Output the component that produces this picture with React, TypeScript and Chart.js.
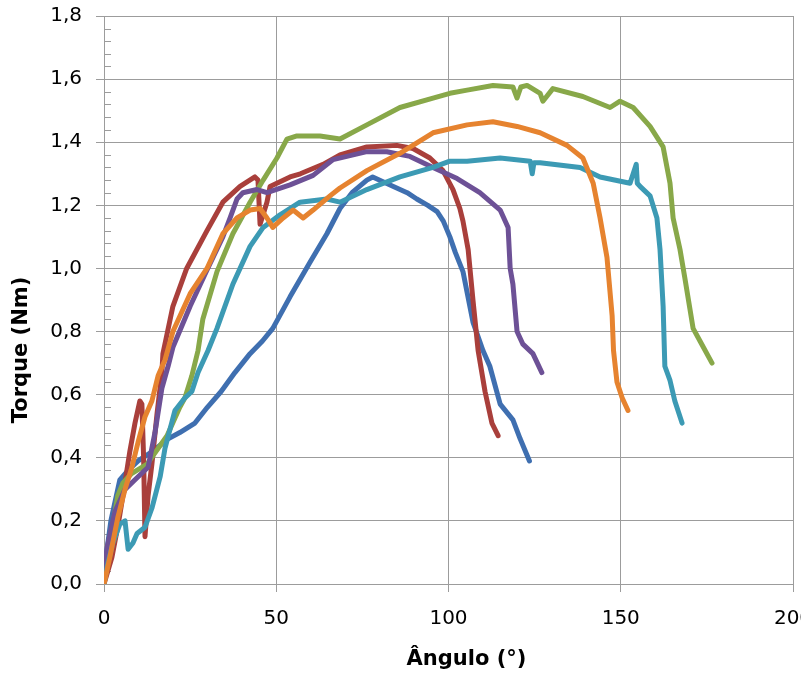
import { useEffect, useRef } from "react";
import { Chart, registerables } from "chart.js";

Chart.register(...registerables);

// ---- Axis settings ----
const X_MIN = 0;
const X_MAX = 200;
const X_STEP = 50;
const Y_MIN = 0;
const Y_MAX = 1.8;
const Y_STEP = 0.2;
const Y_MINOR = 0.04;
const X_TITLE = "Ângulo (°)";
const Y_TITLE = "Torque (Nm)";

// ---- Series data (ângulo in °, torque in Nm) ----
const blueX = [0, 0.5, 2, 4.6, 7, 9.9, 14, 18.6, 22, 26.4, 30, 34, 38, 42.4, 46, 49, 54, 59.8, 64.7, 68.5, 72, 76.3, 78, 81, 84, 88, 90.8, 94, 96.7, 98.5, 100.4, 102, 104.2, 107.1, 110, 112, 115, 118.7, 120.8, 123.5];
const blueY = [0.02, 0.08, 0.2, 0.33, 0.36, 0.39, 0.42, 0.46, 0.48, 0.51, 0.56, 0.61, 0.67, 0.73, 0.77, 0.81, 0.91, 1.02, 1.11, 1.19, 1.24, 1.28, 1.29, 1.275, 1.26, 1.24, 1.22, 1.2, 1.18, 1.15, 1.1, 1.05, 0.99, 0.83, 0.74, 0.69, 0.57, 0.52, 0.46, 0.39];

const redX = [0, 2.3, 3.8, 4.6, 5.5, 7.5, 9, 10.4, 11, 11.5, 11.9, 12.8, 13.9, 15.4, 16.8, 17.1, 20, 24, 29.9, 34.5, 39.5, 43.8, 44.7, 45.3, 47.3, 48.2, 54, 57, 63.6, 68.5, 76.3, 85, 89.7, 94.6, 98.4, 101.3, 103.3, 104.2, 105.7, 107.1, 108.6, 110.6, 112.6, 114.4];
const redY = [0, 0.085, 0.17, 0.22, 0.28, 0.42, 0.51, 0.58, 0.57, 0.4, 0.15, 0.28, 0.38, 0.54, 0.67, 0.73, 0.88, 1.0, 1.12, 1.21, 1.26, 1.29, 1.28, 1.14, 1.21, 1.26, 1.29, 1.3, 1.33, 1.36, 1.385, 1.39, 1.38, 1.35, 1.31, 1.25, 1.19, 1.15, 1.06, 0.9, 0.74, 0.61, 0.51, 0.47];

const greenX = [0, 2, 4, 5.5, 8, 12.5, 18.3, 22, 23.5, 25.5, 27.3, 28.7, 32.8, 37.4, 42.4, 46.2, 50.2, 53.1, 56, 62.7, 68.5, 76.3, 85.9, 95.5, 100.4, 105.4, 112.9, 118.7, 119.9, 121, 122.8, 126.6, 127.4, 130.3, 139, 146.9, 149.8, 153.6, 158.5, 162.3, 164.3, 165.2, 167.2, 168.6, 170.1, 171, 173, 176.5];
const greenY = [0, 0.15, 0.28, 0.32, 0.35, 0.38, 0.47, 0.56, 0.59, 0.66, 0.74, 0.84, 0.99, 1.11, 1.21, 1.28, 1.35, 1.41, 1.42, 1.42, 1.41, 1.455, 1.51, 1.54, 1.555, 1.565, 1.58, 1.575, 1.54, 1.575, 1.58, 1.555, 1.53, 1.57, 1.545, 1.51, 1.53, 1.51, 1.45, 1.385, 1.27, 1.16, 1.06, 0.97, 0.87, 0.81, 0.77, 0.7];

const purpleX = [0, 1, 3.2, 6.1, 9.9, 12.8, 14.8, 16.8, 18.6, 20, 25, 29.9, 34.5, 36.6, 38.6, 40.3, 44.4, 47.3, 54, 60.7, 66.5, 76.3, 82.1, 88.8, 95.5, 102.5, 109.1, 115, 117.3, 117.9, 118.7, 119.9, 121.6, 124.5, 127.1];
const purpleY = [0.05, 0.12, 0.23, 0.3, 0.34, 0.37, 0.48, 0.62, 0.69, 0.75, 0.88, 0.995, 1.1, 1.16, 1.22, 1.24, 1.25, 1.24, 1.265, 1.295, 1.345, 1.37, 1.37, 1.355, 1.32, 1.285, 1.24, 1.185, 1.13, 1.0, 0.95, 0.8, 0.76, 0.73, 0.67];

const aquaX = [0, 1, 2.6, 4.6, 6.1, 7, 8.4, 9.6, 11.9, 13.9, 16.3, 17.7, 20.6, 23.5, 25.5, 27.3, 30.2, 32.8, 37.4, 42.4, 46.2, 51.1, 56.9, 64.7, 68.5, 76.3, 85.9, 95.5, 100.4, 105.4, 115, 123.7, 124.3, 124.8, 126.6, 138.2, 144, 152.7, 154.5, 154.8, 155.6, 158.5, 160.5, 161.4, 162.3, 162.8, 164.3, 165.7, 167.8];
const aquaY = [0, 0.06, 0.13, 0.19, 0.2, 0.11, 0.13, 0.16, 0.18, 0.24, 0.34, 0.43, 0.55, 0.59, 0.61, 0.67, 0.74, 0.81, 0.95, 1.07, 1.13, 1.17, 1.21, 1.22, 1.21, 1.25, 1.29, 1.32, 1.34, 1.34, 1.35, 1.34, 1.3, 1.335, 1.335, 1.32, 1.29, 1.27, 1.33, 1.27, 1.26, 1.23, 1.16, 1.06, 0.88, 0.69, 0.645, 0.58, 0.51];

const orangeX = [0, 1.7, 4, 6.1, 8.1, 9.9, 11.9, 13.9, 15.7, 17.7, 20, 25, 29.9, 34.5, 38.6, 42.4, 45.3, 47.3, 49, 52, 54.9, 57.8, 60.7, 65.6, 68.5, 76.3, 85.9, 95.5, 105.4, 112.9, 119.9, 126.6, 134.4, 139, 142, 144, 146, 147.5, 147.9, 148.9, 150.4, 152.1];
const orangeY = [0, 0.085, 0.21, 0.3, 0.37, 0.45, 0.53, 0.58, 0.66, 0.71, 0.8, 0.92, 1.0, 1.11, 1.16, 1.185, 1.19, 1.16, 1.13, 1.16, 1.185, 1.16, 1.185, 1.23, 1.255, 1.31, 1.365, 1.43, 1.455, 1.465, 1.45, 1.43, 1.39, 1.35, 1.27, 1.16, 1.035, 0.85, 0.74, 0.64, 0.59, 0.55];

const SERIES = [
  { xs: blueX, ys: blueY, color: "#3f6fb0" },
  { xs: redX, ys: redY, color: "#a93f3b" },
  { xs: greenX, ys: greenY, color: "#88a849" },
  { xs: purpleX, ys: purpleY, color: "#6d5196" },
  { xs: aquaX, ys: aquaY, color: "#3c9ab4" },
  { xs: orangeX, ys: orangeY, color: "#e6832f" },
];

const GRID = "#9c9c9c";
const FONT = "'DejaVu Sans', Verdana, sans-serif";

const decorPlugin = {
  id: "decor",
  beforeDatasetsDraw(chart: any) {
    const { ctx, chartArea, scales } = chart;
    const y = scales.y;
    ctx.save();
    ctx.strokeStyle = GRID;
    ctx.lineWidth = 1;
    const n = Math.round((Y_MAX - Y_MIN) / Y_MINOR);
    const per = Math.round(Y_STEP / Y_MINOR);
    for (let i = 1; i < n; i++) {
      if (i % per === 0) continue;
      const py = Math.round(y.getPixelForValue(Y_MIN + i * Y_MINOR)) + 0.5;
      ctx.beginPath();
      ctx.moveTo(chartArea.left, py);
      ctx.lineTo(chartArea.left + 7, py);
      ctx.stroke();
    }
    ctx.restore();
  },
  afterDraw(chart: any) {
    const { ctx, chartArea } = chart;
    ctx.save();
    ctx.fillStyle = "#000";
    ctx.font = `bold 21px ${FONT}`;
    ctx.textAlign = "center";
    ctx.textBaseline = "middle";
    const cx = (chartArea.left + chartArea.right) / 2 + 18;
    ctx.fillText(X_TITLE, cx, chartArea.bottom + 76);
    const cy = (chartArea.top + chartArea.bottom) / 2 + 50;
    ctx.translate(22, cy);
    ctx.rotate(-Math.PI / 2);
    ctx.fillText(Y_TITLE, 0, 0);
    ctx.restore();
  },
};

export default function App() {
  const ref = useRef<HTMLCanvasElement | null>(null);

  useEffect(() => {
    if (!ref.current) return;
    const chart = new Chart(ref.current, {
      type: "scatter",
      data: {
        datasets: SERIES.map((s, i) => ({
          data: s.xs.map((x, k) => ({ x, y: s.ys[k] })),
          showLine: true,
          borderColor: s.color,
          backgroundColor: s.color,
          borderWidth: 5,
          pointRadius: 0,
          pointHoverRadius: 0,
          tension: 0,
          borderJoinStyle: "round",
          borderCapStyle: "round",
          order: SERIES.length - i,
        })),
      },
      options: {
        animation: false,
        responsive: false,
        devicePixelRatio: 1,
        layout: { padding: { left: 34, top: 16, right: 8, bottom: 0 } },
        plugins: { legend: { display: false }, tooltip: { enabled: false } },
        scales: {
          x: {
            type: "linear",
            min: X_MIN,
            max: X_MAX,
            ticks: {
              stepSize: X_STEP,
              color: "#000",
              font: { family: FONT, size: 20 },
              padding: 15,
              maxRotation: 0,
            },
            grid: { color: GRID, lineWidth: 1, tickLength: 8 },
            border: { color: GRID, width: 1 },
            afterFit: (s: any) => {
              s.height = 92;
              s.paddingLeft = 0;
              s.paddingRight = 0;
            },
          },
          y: {
            type: "linear",
            min: Y_MIN,
            max: Y_MAX,
            ticks: {
              stepSize: Y_STEP,
              color: "#000",
              font: { family: FONT, size: 20 },
              padding: 14,
              callback: (v: any) => Number(v).toFixed(1).replace(".", ","),
            },
            grid: { color: GRID, lineWidth: 1, tickLength: 8 },
            border: { color: GRID, width: 1 },
            afterFit: (s: any) => {
              s.width = 70;
              s.paddingTop = 0;
              s.paddingBottom = 0;
            },
          },
        },
      },
      plugins: [decorPlugin],
    });
    return () => chart.destroy();
  }, []);

  return (
    <div
      style={{
        position: "fixed",
        left: 0,
        top: 0,
        width: 801,
        height: 676,
        overflow: "hidden",
        background: "#fff",
      }}
    >
      <canvas ref={ref} width={801} height={676} style={{ width: 801, height: 676, display: "block" }} />
    </div>
  );
}
